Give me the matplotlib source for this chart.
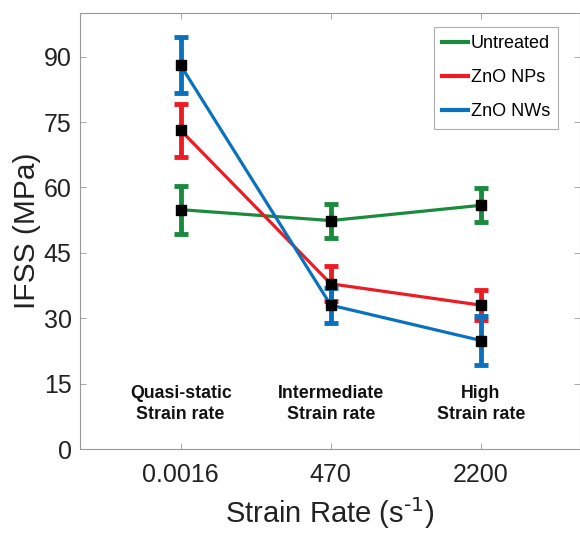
import matplotlib
matplotlib.use("Agg")
import matplotlib.pyplot as plt

plt.rcParams['font.family'] = ['Liberation Sans', 'DejaVu Sans']
plt.rcParams['axes.unicode_minus'] = False

categories = ["0.0016", "470", "2200"]
regime_labels = ["Quasi-static\nStrain rate", "Intermediate\nStrain rate", "High\nStrain rate"]
series_names = ["Untreated", "ZnO NPs", "ZnO NWs"]
untreated = [54.9, 52.4, 55.9]
untreated_err = [5.5, 3.9, 3.9]
zno_nps = [73.1, 37.9, 33.0]
zno_nps_err = [6.1, 4.0, 3.5]
zno_nws = [88.0, 33.0, 24.9]
zno_nws_err = [6.4, 4.0, 5.6]
colors = ["#1a8a3c", "#ed1c24", "#0a72bd"]

fig = plt.figure(figsize=(5.8, 5.34), dpi=100)
ax = fig.add_axes([0.138, 0.159, 0.862, 0.8167])

x = [1, 2, 3]
for vals, errs, c, name in zip([untreated, zno_nps, zno_nws],
                               [untreated_err, zno_nps_err, zno_nws_err],
                               colors, series_names):
    ax.plot(x, vals, color=c, lw=2.3, label=name, zorder=2)
    ax.errorbar(x, vals, yerr=errs, fmt='none', ecolor=c, elinewidth=3.5,
                capsize=4.8, capthick=3.5, zorder=3)
    ax.plot(x, vals, ls='none', marker='s', ms=7.5, mfc='black', mec='black', zorder=4)

for xi, lab in zip(x, regime_labels):
    ax.text(xi, 10.3, lab, ha='center', va='center', fontsize=12.8,
            fontweight='bold', linespacing=1.3, color='#111111')

ax.set_xlim(0.33, 3.66)
ax.set_ylim(0, 100)
ax.set_xticks(x)
ax.set_xticklabels(categories)
ax.set_yticks([0, 15, 30, 45, 60, 75, 90])
ax.tick_params(direction='in', length=4, width=0.6, color='#999999',
               labelsize=18, pad=6, top=True, right=True, labelcolor='#222222')
ax.tick_params(axis='x', pad=10)
for s in ax.spines.values():
    s.set_color('#999999')
    s.set_linewidth(0.8)

ax.set_ylabel("IFSS (MPa)", fontsize=21.5, color='#222222', labelpad=2)
ax.set_xlabel("Strain Rate (s$^{\\text{-1}}$)", fontsize=21, color='#222222', labelpad=6)

leg = ax.legend(loc='upper right', bbox_to_anchor=(558/580, 1 - 27/534),
                bbox_transform=fig.transFigure, fontsize=13, frameon=True,
                fancybox=False, edgecolor='#999999', handlelength=1.45,
                handletextpad=0.15, borderpad=0.45, labelspacing=0.95,
                borderaxespad=0)
for h in leg.get_lines():
    h.set_linewidth(3)
leg.get_frame().set_linewidth(0.8)

fig.savefig("out.png", dpi=100)
